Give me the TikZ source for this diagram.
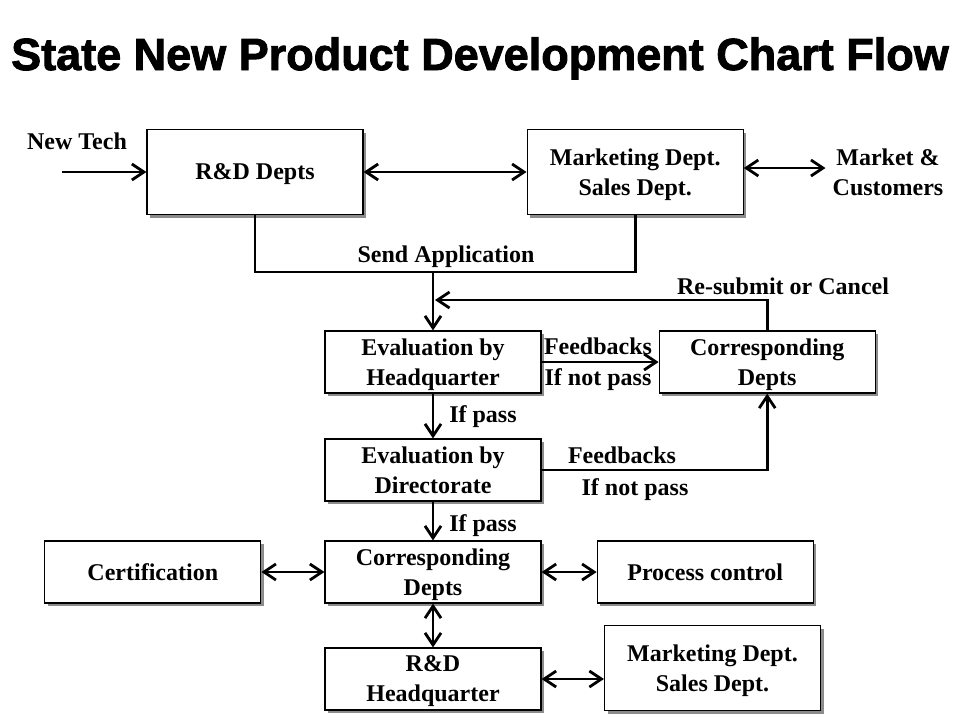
\documentclass[tikz,border=0pt]{standalone}
\usepackage{fontspec}
\setmainfont{Liberation Serif}
\newfontfamily\titlefont[BoldFeatures={FakeBold=2}]{Liberation Sans}
\usetikzlibrary{positioning,arrows.meta,shadows}

\newcommand{\boxfont}{\bfseries\fontsize{24}{30}\selectfont}
\tikzset{
    box/.style={draw, line width=1.2pt, fill=white, align=center, minimum width=216pt, minimum height=62pt, inner sep=2pt, text depth=0pt, font=\boxfont, drop shadow={shadow xshift=3pt, shadow yshift=-3pt, fill=black!45, opacity=1}},
    bigbox/.style={box, minimum height=85pt},
    lbl/.style={font=\boxfont, inner sep=0pt, anchor=base},
    line/.style={line width=2.8pt},
    arr/.style={line, -{Straight Barb[length=12pt,width=16pt]}},
    darr/.style={line, {Straight Barb[length=12pt,width=16pt]}-{Straight Barb[length=12pt,width=16pt]}}
}

\begin{document}
\begin{tikzpicture}[x=1pt, y=-1pt]
    \useasboundingbox (0,0) rectangle (960,724);
    \node [font=\titlefont\bfseries\fontsize{45}{50}\selectfont, anchor=base] (title) at (480,70) {State New Product Development Chart Flow};

    % top row
    \node [bigbox] (rd) at (255,172) {R\&D Depts};
    \node [bigbox, right=163pt of rd] (mkt) {Marketing Dept.\\Sales Dept.};
    \node [lbl] (newtech) at (77,149) {New Tech};
    \node [font=\boxfont, align=center, inner sep=0pt] (mktcust) at (888,172) {Market \&\\Customers};
    \coordinate (techin) at (62,172);
    \coordinate (sendmid) at (433,272);

    % evaluation
    \node [box] (evalhq) at (433,362) {Evaluation by\\Headquarter};
    \node [box, right=117pt of evalhq] (corr1) {Corresponding\\Depts};
    \node [box] (evaldir) at (433,470) {Evaluation by\\Directorate};
    \coordinate (resub) at (435,300);

    % bottom rows
    \node [box] (corr2) at (433,572) {Corresponding\\Depts};
    \node [box, left=63pt of corr2] (cert) {Certification};
    \node [box, right=55pt of corr2] (proc) {Process control};
    \node [box] (rdhq) at (433,679) {R\&D\\Headquarter};
    \node [bigbox] (mkt2) at (712.5,668) {Marketing Dept.\\Sales Dept.};

    % labels
    \node [lbl] (sendlbl) at (446,262) {Send Application};
    \node [lbl] (resublbl) at (783,294) {Re-submit or Cancel};
    \node [lbl] (fb1) at (598,354) {Feedbacks};
    \node [lbl] (np1) at (598,385) {If not pass};
    \node [lbl] (pass1) at (483,422) {If pass};
    \node [lbl] (fb2) at (622,463) {Feedbacks};
    \node [lbl] (np2) at (635,495) {If not pass};
    \node [lbl] (pass2) at (483,531) {If pass};

    \draw [arr] (techin) -- (rd.west);
    \draw [darr] (rd.east) -- (mkt.west);
    \draw [darr] ([yshift=4pt]mkt.east) -- ([yshift=4pt, xshift=-7pt]mkt.east -| mktcust.west);
    \draw [line] (rd.south) |- (sendmid) -| (mkt.south); % Send Application
    \draw [arr] (sendmid) -- (evalhq.north);
    \draw [arr] (corr1.north) |- (resub); % Re-submit or Cancel
    \draw [arr] (evalhq) -- (corr1);
    \draw [arr] (evalhq) -- (evaldir);
    \draw [arr] (evaldir.east) -| (corr1.south);
    \draw [arr] (evaldir) -- (corr2);
    \draw [darr] (cert) -- (corr2);
    \draw [darr] (corr2) -- (proc);
    \draw [darr] (corr2) -- (rdhq);
    \draw [darr] (rdhq.east) -- (rdhq.east -| mkt2.west);
\end{tikzpicture}
\end{document}
